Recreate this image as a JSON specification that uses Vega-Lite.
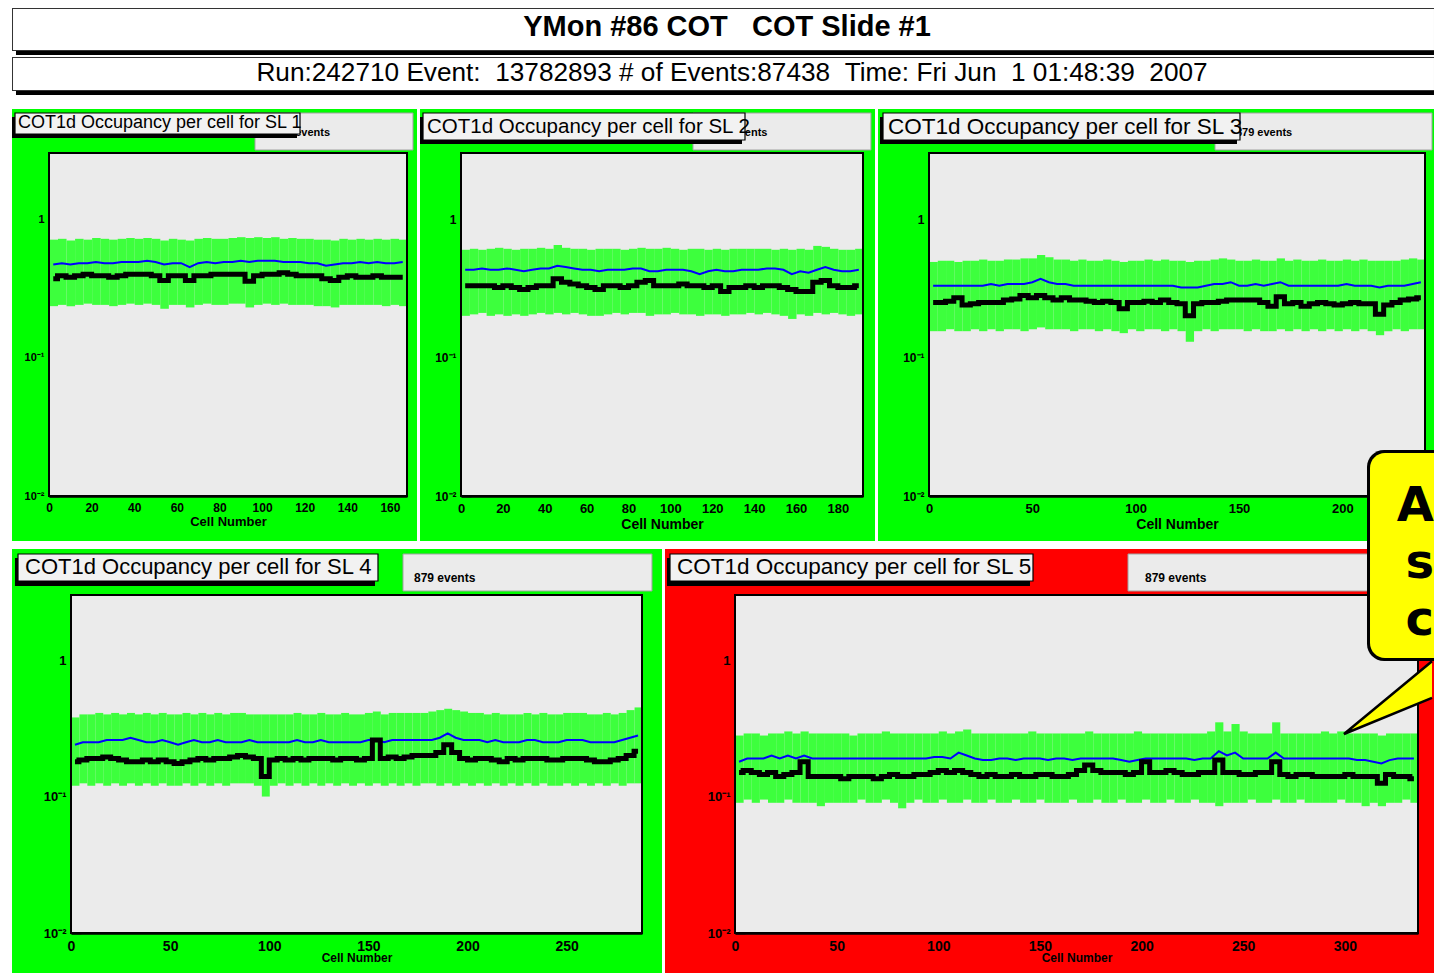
{
"$schema":"https://vega.github.io/schema/vega-lite/v6.json",
"padding":{"left":12,"top":8,"right":0,"bottom":0},
"autosize":{"type":"pad"},
"background":"white",
"spacing":-92,
"bounds":"full",
"config":{"view":{"stroke":null},"axis":{"domainColor":"black","domainWidth":2.5,"tickColor":"black","tickWidth":1.5,"labelColor":"black","labelFont":"Liberation Sans","labelFontWeight":"bold","titleFont":"Liberation Sans","titleFontWeight":"bold","titleColor":"black","grid":false,"labelOverlap":false,"labelBound":false,"labelFlush":false,"zindex":1}},
"vconcat":[
{"hconcat":[
{
"width":405,"height":432,"view":{"fill":"#00ff00","stroke":null},
"data":{"values":[
{"c":2,"l":0.235,"h":0.71,"b":0.47,"k":0.37},{"c":6,"l":0.24,"h":0.72,"b":0.48,"k":0.39},{"c":10,"l":0.235,"h":0.70,"b":0.47,"k":0.38},{"c":14,"l":0.24,"h":0.72,"b":0.48,"k":0.39},{"c":18,"l":0.245,"h":0.71,"b":0.48,"k":0.40},{"c":22,"l":0.24,"h":0.73,"b":0.49,"k":0.39},{"c":26,"l":0.24,"h":0.72,"b":0.48,"k":0.39},{"c":30,"l":0.235,"h":0.71,"b":0.48,"k":0.38},{"c":34,"l":0.24,"h":0.72,"b":0.49,"k":0.39},{"c":38,"l":0.245,"h":0.73,"b":0.49,"k":0.40},{"c":42,"l":0.24,"h":0.72,"b":0.49,"k":0.40},{"c":46,"l":0.245,"h":0.73,"b":0.50,"k":0.40},{"c":50,"l":0.24,"h":0.72,"b":0.49,"k":0.39},{"c":54,"l":0.225,"h":0.70,"b":0.47,"k":0.36},{"c":58,"l":0.24,"h":0.72,"b":0.48,"k":0.39},{"c":62,"l":0.24,"h":0.71,"b":0.48,"k":0.39},{"c":66,"l":0.23,"h":0.70,"b":0.45,"k":0.36},{"c":70,"l":0.24,"h":0.72,"b":0.48,"k":0.39},{"c":74,"l":0.245,"h":0.73,"b":0.49,"k":0.39},{"c":78,"l":0.24,"h":0.72,"b":0.48,"k":0.40},{"c":82,"l":0.24,"h":0.72,"b":0.49,"k":0.40},{"c":86,"l":0.245,"h":0.73,"b":0.49,"k":0.40},{"c":90,"l":0.245,"h":0.74,"b":0.50,"k":0.40},{"c":94,"l":0.23,"h":0.73,"b":0.49,"k":0.355},{"c":98,"l":0.24,"h":0.74,"b":0.50,"k":0.39},{"c":102,"l":0.245,"h":0.73,"b":0.50,"k":0.40},{"c":106,"l":0.24,"h":0.74,"b":0.50,"k":0.40},{"c":110,"l":0.245,"h":0.72,"b":0.49,"k":0.41},{"c":114,"l":0.24,"h":0.73,"b":0.49,"k":0.40},{"c":118,"l":0.24,"h":0.72,"b":0.49,"k":0.39},{"c":122,"l":0.24,"h":0.72,"b":0.48,"k":0.39},{"c":126,"l":0.235,"h":0.71,"b":0.48,"k":0.39},{"c":130,"l":0.235,"h":0.71,"b":0.46,"k":0.37},{"c":134,"l":0.23,"h":0.70,"b":0.47,"k":0.36},{"c":138,"l":0.24,"h":0.72,"b":0.48,"k":0.38},{"c":142,"l":0.24,"h":0.71,"b":0.48,"k":0.39},{"c":146,"l":0.24,"h":0.72,"b":0.49,"k":0.38},{"c":150,"l":0.24,"h":0.71,"b":0.48,"k":0.38},{"c":154,"l":0.24,"h":0.72,"b":0.49,"k":0.39},{"c":158,"l":0.235,"h":0.71,"b":0.48,"k":0.38},{"c":162,"l":0.24,"h":0.72,"b":0.48,"k":0.38},{"c":166,"l":0.235,"h":0.71,"b":0.49,"k":0.38}
]},
"layer":[
{"data":{"values":[{}]},"mark":{"type":"rect","fill":"#ebebeb"},"encoding":{
"x":{"datum":0,"type":"quantitative","scale":{"domain":[0,168],"range":[37,395],"nice":false,"zero":false}},
"x2":{"datum":168},
"y":{"datum":0.01,"type":"quantitative","scale":{"type":"log","domain":[0.01,3],"range":[387,44],"nice":false}},
"y2":{"datum":3}}},
{"mark":{"type":"bar","color":"#3dff3d","binSpacing":0},"encoding":{"x":{"field":"c","type":"quantitative","bin":{"step":4,"extent":[0,168]}},"y":{"field":"l","type":"quantitative"},"y2":{"field":"h"}}},
{"mark":{"type":"line","color":"#0000ff","strokeWidth":2},"encoding":{
"x":{"field":"c","type":"quantitative","axis":{"title":"Cell Number","titleFontSize":13,"titlePadding":-3,"offset":-45,"values":[0,5,10,15,20,25,30,35,40,45,50,55,60,65,70,75,80,85,90,95,100,105,110,115,120,125,130,135,140,145,150,155,160,165],"labelExpr":"datum.value % 20 == 0 ? datum.label : ''","tickSize":{"condition":{"test":"datum.value % 20 == 0","value":-10},"value":-5},"labelFontSize":12,"labelPadding":16}},
"y":{"field":"b","type":"quantitative","axis":{"title":null,"offset":-37,"values":[0.01,0.02,0.03,0.04,0.05,0.06,0.07,0.08,0.09,0.1,0.2,0.3,0.4,0.5,0.6,0.7,0.8,0.9,1,2,3],"labelExpr":"datum.value == 1 ? '1' : datum.value == 0.1 ? '10⁻¹' : datum.value == 0.01 ? '10⁻²' : ''","tickSize":{"condition":{"test":"datum.value == 1 || datum.value == 0.1 || datum.value == 0.01","value":-10},"value":-5},"labelFontSize":11,"labelPadding":15}}}},
{"mark":{"type":"line","color":"#000000","strokeWidth":5,"interpolate":"step"},"encoding":{"x":{"field":"c","type":"quantitative"},"y":{"field":"k","type":"quantitative"}}},
{"data":{"values":[{}]},"mark":{"type":"rect","fill":"transparent","stroke":"black","strokeWidth":2},"encoding":{"x":{"datum":0,"type":"quantitative"},"x2":{"datum":168},"y":{"datum":0.01,"type":"quantitative"},"y2":{"datum":3}}},
{"data":{"values":[{}]},"mark":{"type":"rect","fill":"#ebebeb","stroke":"#a0a0a0","strokeWidth":1},"encoding":{"x":{"datum":96.67,"type":"quantitative"},"x2":{"datum":170.82},"y":{"datum":3.153,"type":"quantitative"},"y2":{"datum":5.835}}},
{"data":{"values":[{}]},"mark":{"type":"text","text":"879 events","align":"left","baseline":"middle","font":"Liberation Sans","fontSize":11,"fontWeight":"bold","color":"black"},"encoding":{"x":{"datum":105.5,"type":"quantitative"},"y":{"datum":4.183,"type":"quantitative"}}},
{"data":{"values":[{}]},"mark":{"type":"rect","fill":"black"},"encoding":{"x":{"datum":-17.36,"type":"quantitative"},"x2":{"datum":116.38},"y":{"datum":3.850,"type":"quantitative"},"y2":{"datum":5.459}}},
{"data":{"values":[{}]},"mark":{"type":"rect","fill":"#f2f2f2","stroke":"black","strokeWidth":1.2},"encoding":{"x":{"datum":-15.96,"type":"quantitative"},"x2":{"datum":117.79},"y":{"datum":4.114,"type":"quantitative"},"y2":{"datum":5.835}}},
{"data":{"values":[{}]},"mark":{"type":"text","text":"COT1d Occupancy per cell for SL 1","align":"left","baseline":"middle","font":"Liberation Sans","fontSize":18,"color":"black"},"encoding":{"x":{"datum":-14.55,"type":"quantitative"},"y":{"datum":4.900,"type":"quantitative"}}},
{"data":{"values":[{}]},"mark":{"type":"rect","fill":"black"},"encoding":{"x":{"datum":-15.49,"type":"quantitative"},"x2":{"datum":649.94},"y":{"datum":15.31,"type":"quantitative"},"y2":{"datum":31.29}}},
{"data":{"values":[{}]},"mark":{"type":"rect","fill":"#333333"},"encoding":{"x":{"datum":-17.36,"type":"quantitative"},"x2":{"datum":649.94},"y":{"datum":16.36,"type":"quantitative"},"y2":{"datum":33.44}}},
{"data":{"values":[{}]},"mark":{"type":"rect","fill":"white"},"encoding":{"x":{"datum":-16.89,"type":"quantitative"},"x2":{"datum":649.94},"y":{"datum":16.63,"type":"quantitative"},"y2":{"datum":32.89}}},
{"data":{"values":[{}]},"mark":{"type":"text","text":"YMon #86 COT\u00a0\u00a0\u00a0COT Slide #1","align":"center","baseline":"middle","font":"Liberation Sans","fontSize":29,"fontWeight":"bold","color":"black"},"encoding":{"x":{"datum":318.17,"type":"quantitative"},"y":{"datum":24.38,"type":"quantitative"}}},
{"data":{"values":[{}]},"mark":{"type":"rect","fill":"black"},"encoding":{"x":{"datum":-15.49,"type":"quantitative"},"x2":{"datum":649.94},"y":{"datum":7.87,"type":"quantitative"},"y2":{"datum":13.85}}},
{"data":{"values":[{}]},"mark":{"type":"rect","fill":"#333333"},"encoding":{"x":{"datum":-17.36,"type":"quantitative"},"x2":{"datum":649.94},"y":{"datum":8.41,"type":"quantitative"},"y2":{"datum":14.81}}},
{"data":{"values":[{}]},"mark":{"type":"rect","fill":"white"},"encoding":{"x":{"datum":-16.89,"type":"quantitative"},"x2":{"datum":649.94},"y":{"datum":8.55,"type":"quantitative"},"y2":{"datum":14.56}}},
{"data":{"values":[{}]},"mark":{"type":"text","text":"Run:242710 Event:\u00a0\u00a013782893 # of Events:87438\u00a0\u00a0Time: Fri Jun\u00a0\u00a01 01:48:39\u00a0\u00a02007","align":"center","baseline":"middle","font":"Liberation Sans","fontSize":26.2,"color":"black"},"encoding":{"x":{"datum":320.51,"type":"quantitative"},"y":{"datum":11.35,"type":"quantitative"}}}
]
},
{
"width":455,"height":432,"view":{"fill":"#00ff00","stroke":null},
"data":{"values":[
{"c":2,"l":0.20,"h":0.60,"b":0.43,"k":0.33},{"c":6,"l":0.205,"h":0.61,"b":0.43,"k":0.33},{"c":10,"l":0.21,"h":0.60,"b":0.44,"k":0.33},{"c":14,"l":0.20,"h":0.61,"b":0.43,"k":0.33},{"c":18,"l":0.205,"h":0.62,"b":0.43,"k":0.32},{"c":22,"l":0.20,"h":0.61,"b":0.44,"k":0.33},{"c":26,"l":0.205,"h":0.60,"b":0.43,"k":0.32},{"c":30,"l":0.20,"h":0.61,"b":0.42,"k":0.31},{"c":34,"l":0.205,"h":0.61,"b":0.43,"k":0.32},{"c":38,"l":0.21,"h":0.62,"b":0.44,"k":0.33},{"c":42,"l":0.205,"h":0.61,"b":0.44,"k":0.33},{"c":46,"l":0.21,"h":0.65,"b":0.46,"k":0.37},{"c":50,"l":0.205,"h":0.62,"b":0.45,"k":0.35},{"c":54,"l":0.21,"h":0.61,"b":0.44,"k":0.34},{"c":58,"l":0.205,"h":0.61,"b":0.43,"k":0.33},{"c":62,"l":0.20,"h":0.60,"b":0.43,"k":0.32},{"c":66,"l":0.20,"h":0.61,"b":0.42,"k":0.31},{"c":70,"l":0.205,"h":0.61,"b":0.43,"k":0.33},{"c":74,"l":0.21,"h":0.61,"b":0.43,"k":0.33},{"c":78,"l":0.205,"h":0.60,"b":0.43,"k":0.32},{"c":82,"l":0.21,"h":0.61,"b":0.44,"k":0.33},{"c":86,"l":0.21,"h":0.62,"b":0.44,"k":0.35},{"c":90,"l":0.20,"h":0.61,"b":0.42,"k":0.36},{"c":94,"l":0.205,"h":0.61,"b":0.42,"k":0.33},{"c":98,"l":0.205,"h":0.62,"b":0.43,"k":0.33},{"c":102,"l":0.21,"h":0.61,"b":0.43,"k":0.33},{"c":106,"l":0.205,"h":0.60,"b":0.43,"k":0.34},{"c":110,"l":0.205,"h":0.61,"b":0.42,"k":0.33},{"c":114,"l":0.20,"h":0.61,"b":0.40,"k":0.33},{"c":118,"l":0.205,"h":0.60,"b":0.42,"k":0.32},{"c":122,"l":0.205,"h":0.61,"b":0.43,"k":0.33},{"c":126,"l":0.20,"h":0.60,"b":0.42,"k":0.30},{"c":130,"l":0.205,"h":0.61,"b":0.42,"k":0.32},{"c":134,"l":0.205,"h":0.61,"b":0.43,"k":0.32},{"c":138,"l":0.21,"h":0.61,"b":0.43,"k":0.33},{"c":142,"l":0.205,"h":0.61,"b":0.43,"k":0.32},{"c":146,"l":0.21,"h":0.61,"b":0.44,"k":0.33},{"c":150,"l":0.205,"h":0.60,"b":0.44,"k":0.33},{"c":154,"l":0.20,"h":0.61,"b":0.43,"k":0.32},{"c":158,"l":0.19,"h":0.60,"b":0.40,"k":0.31},{"c":162,"l":0.205,"h":0.61,"b":0.42,"k":0.30},{"c":166,"l":0.20,"h":0.60,"b":0.41,"k":0.30},{"c":170,"l":0.21,"h":0.64,"b":0.43,"k":0.35},{"c":174,"l":0.205,"h":0.63,"b":0.45,"k":0.36},{"c":178,"l":0.21,"h":0.61,"b":0.43,"k":0.33},{"c":182,"l":0.205,"h":0.60,"b":0.42,"k":0.32},{"c":186,"l":0.20,"h":0.60,"b":0.42,"k":0.32},{"c":190,"l":0.205,"h":0.61,"b":0.43,"k":0.33}
]},
"layer":[
{"data":{"values":[{}]},"mark":{"type":"rect","fill":"#ebebeb"},"encoding":{
"x":{"datum":0,"type":"quantitative","scale":{"domain":[0,192],"range":[41,443],"nice":false,"zero":false}},
"x2":{"datum":192},
"y":{"datum":0.01,"type":"quantitative","scale":{"type":"log","domain":[0.01,3],"range":[387,44],"nice":false}},
"y2":{"datum":3}}},
{"mark":{"type":"bar","color":"#3dff3d","binSpacing":0},"encoding":{"x":{"field":"c","type":"quantitative","bin":{"step":4,"extent":[0,192]}},"y":{"field":"l","type":"quantitative"},"y2":{"field":"h"}}},
{"mark":{"type":"line","color":"#0000ff","strokeWidth":2},"encoding":{
"x":{"field":"c","type":"quantitative","axis":{"title":"Cell Number","titleFontSize":14,"titlePadding":-3,"offset":-45,"values":[0,5,10,15,20,25,30,35,40,45,50,55,60,65,70,75,80,85,90,95,100,105,110,115,120,125,130,135,140,145,150,155,160,165,170,175,180,185,190],"labelExpr":"datum.value % 20 == 0 ? datum.label : ''","tickSize":{"condition":{"test":"datum.value % 20 == 0","value":-10},"value":-5},"labelFontSize":13,"labelPadding":16}},
"y":{"field":"b","type":"quantitative","axis":{"title":null,"offset":-41,"values":[0.01,0.02,0.03,0.04,0.05,0.06,0.07,0.08,0.09,0.1,0.2,0.3,0.4,0.5,0.6,0.7,0.8,0.9,1,2,3],"labelExpr":"datum.value == 1 ? '1' : datum.value == 0.1 ? '10⁻¹' : datum.value == 0.01 ? '10⁻²' : ''","tickSize":{"condition":{"test":"datum.value == 1 || datum.value == 0.1 || datum.value == 0.01","value":-10},"value":-5},"labelFontSize":12,"labelPadding":15}}}},
{"mark":{"type":"line","color":"#000000","strokeWidth":5,"interpolate":"step"},"encoding":{"x":{"field":"c","type":"quantitative"},"y":{"field":"k","type":"quantitative"}}},
{"data":{"values":[{}]},"mark":{"type":"rect","fill":"transparent","stroke":"black","strokeWidth":2},"encoding":{"x":{"datum":0,"type":"quantitative"},"x2":{"datum":192},"y":{"datum":0.01,"type":"quantitative"},"y2":{"datum":3}}},
{"data":{"values":[{}]},"mark":{"type":"rect","fill":"#ebebeb","stroke":"#a0a0a0","strokeWidth":1},"encoding":{"x":{"datum":110.8,"type":"quantitative"},"x2":{"datum":195.8},"y":{"datum":3.153,"type":"quantitative"},"y2":{"datum":5.835}}},
{"data":{"values":[{}]},"mark":{"type":"text","text":"879 events","align":"left","baseline":"middle","font":"Liberation Sans","fontSize":11,"fontWeight":"bold","color":"black"},"encoding":{"x":{"datum":119.5,"type":"quantitative"},"y":{"datum":4.183,"type":"quantitative"}}},
{"data":{"values":[{}]},"mark":{"type":"rect","fill":"black"},"encoding":{"x":{"datum":-19.58,"type":"quantitative"},"x2":{"datum":134.21},"y":{"datum":3.484,"type":"quantitative"},"y2":{"datum":5.459}}},
{"data":{"values":[{}]},"mark":{"type":"rect","fill":"#f2f2f2","stroke":"black","strokeWidth":1.2},"encoding":{"x":{"datum":-18.15,"type":"quantitative"},"x2":{"datum":135.64},"y":{"datum":3.724,"type":"quantitative"},"y2":{"datum":5.835}}},
{"data":{"values":[{}]},"mark":{"type":"text","text":"COT1d Occupancy per cell for SL 2","align":"left","baseline":"middle","font":"Liberation Sans","fontSize":20.5,"color":"black"},"encoding":{"x":{"datum":-16.24,"type":"quantitative"},"y":{"datum":4.661,"type":"quantitative"}}}
]
},
{
"width":556,"height":432,"view":{"fill":"#00ff00","stroke":null},
"data":{"values":[
{"c":2,"l":0.155,"h":0.49,"b":0.33,"k":0.25},{"c":6,"l":0.155,"h":0.50,"b":0.33,"k":0.25},{"c":10,"l":0.16,"h":0.50,"b":0.33,"k":0.255},{"c":14,"l":0.155,"h":0.49,"b":0.33,"k":0.27},{"c":18,"l":0.155,"h":0.50,"b":0.33,"k":0.24},{"c":22,"l":0.16,"h":0.50,"b":0.33,"k":0.245},{"c":26,"l":0.155,"h":0.51,"b":0.33,"k":0.25},{"c":30,"l":0.16,"h":0.50,"b":0.34,"k":0.25},{"c":34,"l":0.155,"h":0.50,"b":0.33,"k":0.25},{"c":38,"l":0.16,"h":0.51,"b":0.34,"k":0.26},{"c":42,"l":0.16,"h":0.51,"b":0.34,"k":0.265},{"c":46,"l":0.155,"h":0.52,"b":0.34,"k":0.28},{"c":50,"l":0.16,"h":0.52,"b":0.35,"k":0.27},{"c":54,"l":0.165,"h":0.55,"b":0.37,"k":0.28},{"c":58,"l":0.16,"h":0.53,"b":0.35,"k":0.27},{"c":62,"l":0.16,"h":0.51,"b":0.34,"k":0.26},{"c":66,"l":0.16,"h":0.51,"b":0.34,"k":0.27},{"c":70,"l":0.155,"h":0.50,"b":0.33,"k":0.26},{"c":74,"l":0.16,"h":0.51,"b":0.33,"k":0.26},{"c":78,"l":0.16,"h":0.50,"b":0.33,"k":0.255},{"c":82,"l":0.155,"h":0.50,"b":0.33,"k":0.25},{"c":86,"l":0.16,"h":0.51,"b":0.33,"k":0.255},{"c":90,"l":0.155,"h":0.50,"b":0.33,"k":0.25},{"c":94,"l":0.15,"h":0.49,"b":0.33,"k":0.225},{"c":98,"l":0.16,"h":0.50,"b":0.33,"k":0.25},{"c":102,"l":0.155,"h":0.50,"b":0.33,"k":0.25},{"c":106,"l":0.16,"h":0.51,"b":0.33,"k":0.255},{"c":110,"l":0.16,"h":0.50,"b":0.33,"k":0.25},{"c":114,"l":0.155,"h":0.51,"b":0.33,"k":0.26},{"c":118,"l":0.16,"h":0.50,"b":0.33,"k":0.25},{"c":122,"l":0.155,"h":0.50,"b":0.32,"k":0.245},{"c":126,"l":0.13,"h":0.49,"b":0.32,"k":0.20},{"c":130,"l":0.155,"h":0.50,"b":0.32,"k":0.245},{"c":134,"l":0.16,"h":0.50,"b":0.33,"k":0.25},{"c":138,"l":0.155,"h":0.51,"b":0.34,"k":0.25},{"c":142,"l":0.16,"h":0.52,"b":0.34,"k":0.255},{"c":146,"l":0.16,"h":0.51,"b":0.35,"k":0.26},{"c":150,"l":0.16,"h":0.50,"b":0.33,"k":0.26},{"c":154,"l":0.155,"h":0.50,"b":0.33,"k":0.26},{"c":158,"l":0.16,"h":0.51,"b":0.34,"k":0.26},{"c":162,"l":0.155,"h":0.50,"b":0.33,"k":0.25},{"c":166,"l":0.155,"h":0.50,"b":0.34,"k":0.235},{"c":170,"l":0.16,"h":0.52,"b":0.35,"k":0.275},{"c":174,"l":0.155,"h":0.50,"b":0.33,"k":0.245},{"c":178,"l":0.16,"h":0.51,"b":0.33,"k":0.25},{"c":182,"l":0.155,"h":0.50,"b":0.33,"k":0.235},{"c":186,"l":0.16,"h":0.50,"b":0.33,"k":0.245},{"c":190,"l":0.155,"h":0.51,"b":0.33,"k":0.25},{"c":194,"l":0.16,"h":0.50,"b":0.33,"k":0.245},{"c":198,"l":0.155,"h":0.50,"b":0.33,"k":0.24},{"c":202,"l":0.16,"h":0.51,"b":0.34,"k":0.245},{"c":206,"l":0.155,"h":0.50,"b":0.33,"k":0.25},{"c":210,"l":0.16,"h":0.51,"b":0.33,"k":0.245},{"c":214,"l":0.155,"h":0.50,"b":0.33,"k":0.245},{"c":218,"l":0.145,"h":0.50,"b":0.32,"k":0.205},{"c":222,"l":0.155,"h":0.50,"b":0.33,"k":0.24},{"c":226,"l":0.16,"h":0.50,"b":0.33,"k":0.25},{"c":230,"l":0.155,"h":0.51,"b":0.33,"k":0.26},{"c":234,"l":0.16,"h":0.52,"b":0.34,"k":0.265},{"c":238,"l":0.16,"h":0.51,"b":0.35,"k":0.27}
]},
"layer":[
{"data":{"values":[{}]},"mark":{"type":"rect","fill":"#ebebeb"},"encoding":{
"x":{"datum":0,"type":"quantitative","scale":{"domain":[0,240],"range":[51,547],"nice":false,"zero":false}},
"x2":{"datum":240},
"y":{"datum":0.01,"type":"quantitative","scale":{"type":"log","domain":[0.01,3],"range":[387,44],"nice":false}},
"y2":{"datum":3}}},
{"mark":{"type":"bar","color":"#3dff3d","binSpacing":0},"encoding":{"x":{"field":"c","type":"quantitative","bin":{"step":4,"extent":[0,240]}},"y":{"field":"l","type":"quantitative"},"y2":{"field":"h"}}},
{"mark":{"type":"line","color":"#0000ff","strokeWidth":2},"encoding":{
"x":{"field":"c","type":"quantitative","axis":{"title":"Cell Number","titleFontSize":14,"titlePadding":-3,"offset":-45,"values":[0,10,20,30,40,50,60,70,80,90,100,110,120,130,140,150,160,170,180,190,200,210,220,230,240],"labelExpr":"datum.value % 50 == 0 ? datum.label : ''","tickSize":{"condition":{"test":"datum.value % 50 == 0","value":-10},"value":-5},"labelFontSize":13,"labelPadding":16}},
"y":{"field":"b","type":"quantitative","axis":{"title":null,"offset":-51,"values":[0.01,0.02,0.03,0.04,0.05,0.06,0.07,0.08,0.09,0.1,0.2,0.3,0.4,0.5,0.6,0.7,0.8,0.9,1,2,3],"labelExpr":"datum.value == 1 ? '1' : datum.value == 0.1 ? '10⁻¹' : datum.value == 0.01 ? '10⁻²' : ''","tickSize":{"condition":{"test":"datum.value == 1 || datum.value == 0.1 || datum.value == 0.01","value":-10},"value":-5},"labelFontSize":12,"labelPadding":15}}}},
{"mark":{"type":"line","color":"#000000","strokeWidth":5,"interpolate":"step"},"encoding":{"x":{"field":"c","type":"quantitative"},"y":{"field":"k","type":"quantitative"}}},
{"data":{"values":[{}]},"mark":{"type":"rect","fill":"transparent","stroke":"black","strokeWidth":2},"encoding":{"x":{"datum":0,"type":"quantitative"},"x2":{"datum":240},"y":{"datum":0.01,"type":"quantitative"},"y2":{"datum":3}}},
{"data":{"values":[{}]},"mark":{"type":"rect","fill":"#ebebeb","stroke":"#a0a0a0","strokeWidth":1},"encoding":{"x":{"datum":138.39,"type":"quantitative"},"x2":{"datum":243.39},"y":{"datum":3.153,"type":"quantitative"},"y2":{"datum":5.835}}},
{"data":{"values":[{}]},"mark":{"type":"text","text":"879 events","align":"left","baseline":"middle","font":"Liberation Sans","fontSize":11,"fontWeight":"bold","color":"black"},"encoding":{"x":{"datum":148.5,"type":"quantitative"},"y":{"datum":4.183,"type":"quantitative"}}},
{"data":{"values":[{}]},"mark":{"type":"rect","fill":"black"},"encoding":{"x":{"datum":-23.71,"type":"quantitative"},"x2":{"datum":149.03},"y":{"datum":3.484,"type":"quantitative"},"y2":{"datum":5.459}}},
{"data":{"values":[{}]},"mark":{"type":"rect","fill":"#f2f2f2","stroke":"black","strokeWidth":1.2},"encoding":{"x":{"datum":-22.26,"type":"quantitative"},"x2":{"datum":150.48},"y":{"datum":3.724,"type":"quantitative"},"y2":{"datum":5.835}}},
{"data":{"values":[{}]},"mark":{"type":"text","text":"COT1d Occupancy per cell for SL 3","align":"left","baseline":"middle","font":"Liberation Sans","fontSize":22.5,"color":"black"},"encoding":{"x":{"datum":-19.84,"type":"quantitative"},"y":{"datum":4.661,"type":"quantitative"}}}
]
}
],"spacing":3,"bounds":"flush"},
{"hconcat":[
{
"width":650,"height":425,"view":{"fill":"#00ff00","stroke":null},
"data":{"values":[
{"c":2,"l":0.12,"h":0.38,"b":0.24,"k":0.18},{"c":6,"l":0.125,"h":0.40,"b":0.25,"k":0.185},{"c":10,"l":0.12,"h":0.40,"b":0.25,"k":0.19},{"c":14,"l":0.125,"h":0.41,"b":0.25,"k":0.19},{"c":18,"l":0.12,"h":0.40,"b":0.26,"k":0.195},{"c":22,"l":0.125,"h":0.41,"b":0.26,"k":0.19},{"c":26,"l":0.12,"h":0.40,"b":0.26,"k":0.185},{"c":30,"l":0.125,"h":0.41,"b":0.27,"k":0.18},{"c":34,"l":0.12,"h":0.40,"b":0.26,"k":0.18},{"c":38,"l":0.125,"h":0.41,"b":0.25,"k":0.185},{"c":42,"l":0.12,"h":0.40,"b":0.25,"k":0.18},{"c":46,"l":0.125,"h":0.41,"b":0.26,"k":0.185},{"c":50,"l":0.12,"h":0.40,"b":0.25,"k":0.18},{"c":54,"l":0.12,"h":0.40,"b":0.24,"k":0.175},{"c":58,"l":0.125,"h":0.41,"b":0.25,"k":0.18},{"c":62,"l":0.12,"h":0.40,"b":0.26,"k":0.185},{"c":66,"l":0.125,"h":0.41,"b":0.25,"k":0.19},{"c":70,"l":0.12,"h":0.40,"b":0.25,"k":0.185},{"c":74,"l":0.125,"h":0.41,"b":0.26,"k":0.19},{"c":78,"l":0.12,"h":0.40,"b":0.25,"k":0.19},{"c":82,"l":0.125,"h":0.41,"b":0.25,"k":0.195},{"c":86,"l":0.125,"h":0.41,"b":0.25,"k":0.20},{"c":90,"l":0.125,"h":0.40,"b":0.26,"k":0.195},{"c":94,"l":0.12,"h":0.40,"b":0.25,"k":0.19},{"c":98,"l":0.10,"h":0.40,"b":0.25,"k":0.14},{"c":102,"l":0.12,"h":0.40,"b":0.25,"k":0.185},{"c":106,"l":0.125,"h":0.40,"b":0.25,"k":0.19},{"c":110,"l":0.12,"h":0.40,"b":0.25,"k":0.185},{"c":114,"l":0.125,"h":0.41,"b":0.26,"k":0.19},{"c":118,"l":0.12,"h":0.40,"b":0.25,"k":0.185},{"c":122,"l":0.125,"h":0.40,"b":0.25,"k":0.19},{"c":126,"l":0.12,"h":0.41,"b":0.26,"k":0.19},{"c":130,"l":0.125,"h":0.40,"b":0.25,"k":0.19},{"c":134,"l":0.12,"h":0.40,"b":0.25,"k":0.185},{"c":138,"l":0.125,"h":0.41,"b":0.25,"k":0.19},{"c":142,"l":0.12,"h":0.40,"b":0.25,"k":0.19},{"c":146,"l":0.125,"h":0.40,"b":0.25,"k":0.185},{"c":150,"l":0.12,"h":0.41,"b":0.26,"k":0.19},{"c":154,"l":0.125,"h":0.42,"b":0.26,"k":0.26},{"c":158,"l":0.12,"h":0.40,"b":0.25,"k":0.19},{"c":162,"l":0.125,"h":0.41,"b":0.26,"k":0.195},{"c":166,"l":0.12,"h":0.41,"b":0.26,"k":0.19},{"c":170,"l":0.125,"h":0.41,"b":0.26,"k":0.195},{"c":174,"l":0.12,"h":0.41,"b":0.26,"k":0.20},{"c":178,"l":0.125,"h":0.41,"b":0.26,"k":0.20},{"c":182,"l":0.125,"h":0.42,"b":0.26,"k":0.20},{"c":186,"l":0.12,"h":0.43,"b":0.27,"k":0.21},{"c":190,"l":0.125,"h":0.44,"b":0.29,"k":0.24},{"c":194,"l":0.12,"h":0.43,"b":0.27,"k":0.21},{"c":198,"l":0.125,"h":0.42,"b":0.26,"k":0.19},{"c":202,"l":0.12,"h":0.41,"b":0.26,"k":0.185},{"c":206,"l":0.125,"h":0.41,"b":0.26,"k":0.19},{"c":210,"l":0.12,"h":0.40,"b":0.25,"k":0.19},{"c":214,"l":0.125,"h":0.41,"b":0.26,"k":0.185},{"c":218,"l":0.12,"h":0.40,"b":0.25,"k":0.18},{"c":222,"l":0.125,"h":0.40,"b":0.25,"k":0.19},{"c":226,"l":0.12,"h":0.40,"b":0.25,"k":0.185},{"c":230,"l":0.125,"h":0.41,"b":0.26,"k":0.19},{"c":234,"l":0.12,"h":0.40,"b":0.26,"k":0.19},{"c":238,"l":0.125,"h":0.41,"b":0.25,"k":0.19},{"c":242,"l":0.12,"h":0.40,"b":0.25,"k":0.185},{"c":246,"l":0.12,"h":0.40,"b":0.25,"k":0.185},{"c":250,"l":0.125,"h":0.41,"b":0.26,"k":0.19},{"c":254,"l":0.12,"h":0.41,"b":0.26,"k":0.19},{"c":258,"l":0.125,"h":0.41,"b":0.26,"k":0.19},{"c":262,"l":0.12,"h":0.40,"b":0.25,"k":0.185},{"c":266,"l":0.125,"h":0.40,"b":0.25,"k":0.18},{"c":270,"l":0.12,"h":0.41,"b":0.25,"k":0.18},{"c":274,"l":0.125,"h":0.40,"b":0.25,"k":0.185},{"c":278,"l":0.12,"h":0.41,"b":0.26,"k":0.19},{"c":282,"l":0.125,"h":0.43,"b":0.27,"k":0.20},{"c":286,"l":0.125,"h":0.45,"b":0.28,"k":0.215}
]},
"layer":[
{"data":{"values":[{}]},"mark":{"type":"rect","fill":"#ebebeb"},"encoding":{
"x":{"datum":0,"type":"quantitative","scale":{"domain":[0,288],"range":[59,630],"nice":false,"zero":false}},
"x2":{"datum":288},
"y":{"datum":0.01,"type":"quantitative","scale":{"type":"log","domain":[0.01,3],"range":[384,46],"nice":false}},
"y2":{"datum":3}}},
{"mark":{"type":"bar","color":"#3dff3d","binSpacing":0},"encoding":{"x":{"field":"c","type":"quantitative","bin":{"step":4,"extent":[0,288]}},"y":{"field":"l","type":"quantitative"},"y2":{"field":"h"}}},
{"mark":{"type":"line","color":"#0000ff","strokeWidth":2},"encoding":{
"x":{"field":"c","type":"quantitative","axis":{"title":"Cell Number","titleFontSize":12,"titlePadding":-6,"offset":-41,"values":[0,10,20,30,40,50,60,70,80,90,100,110,120,130,140,150,160,170,180,190,200,210,220,230,240,250,260,270,280],"labelExpr":"datum.value % 50 == 0 ? datum.label : ''","tickSize":{"condition":{"test":"datum.value % 50 == 0","value":-10},"value":-5},"labelFontSize":14,"labelPadding":16}},
"y":{"field":"b","type":"quantitative","axis":{"title":null,"offset":-59,"values":[0.01,0.02,0.03,0.04,0.05,0.06,0.07,0.08,0.09,0.1,0.2,0.3,0.4,0.5,0.6,0.7,0.8,0.9,1,2,3],"labelExpr":"datum.value == 1 ? '1' : datum.value == 0.1 ? '10⁻¹' : datum.value == 0.01 ? '10⁻²' : ''","tickSize":{"condition":{"test":"datum.value == 1 || datum.value == 0.1 || datum.value == 0.01","value":-10},"value":-5},"labelFontSize":13,"labelPadding":15}}}},
{"mark":{"type":"line","color":"#000000","strokeWidth":5,"interpolate":"step"},"encoding":{"x":{"field":"c","type":"quantitative"},"y":{"field":"k","type":"quantitative"}}},
{"data":{"values":[{}]},"mark":{"type":"rect","fill":"transparent","stroke":"black","strokeWidth":2},"encoding":{"x":{"datum":0,"type":"quantitative"},"x2":{"datum":288},"y":{"datum":0.01,"type":"quantitative"},"y2":{"datum":3}}},
{"data":{"values":[{}]},"mark":{"type":"rect","fill":"#ebebeb","stroke":"#a0a0a0","strokeWidth":1},"encoding":{"x":{"datum":167.45,"type":"quantitative"},"x2":{"datum":293.04},"y":{"datum":3.209,"type":"quantitative"},"y2":{"datum":5.993}}},
{"data":{"values":[{}]},"mark":{"type":"text","text":"879 events","align":"left","baseline":"middle","font":"Liberation Sans","fontSize":12,"fontWeight":"bold","color":"black"},"encoding":{"x":{"datum":173.0,"type":"quantitative"},"y":{"datum":3.997,"type":"quantitative"}}},
{"data":{"values":[{}]},"mark":{"type":"rect","fill":"black"},"encoding":{"x":{"datum":-28.25,"type":"quantitative"},"x2":{"datum":153.33},"y":{"datum":3.492,"type":"quantitative"},"y2":{"datum":5.600}}},
{"data":{"values":[{}]},"mark":{"type":"rect","fill":"#f2f2f2","stroke":"black","strokeWidth":1.2},"encoding":{"x":{"datum":-26.73,"type":"quantitative"},"x2":{"datum":154.84},"y":{"datum":3.800,"type":"quantitative"},"y2":{"datum":5.993}}},
{"data":{"values":[{}]},"mark":{"type":"text","text":"COT1d Occupancy per cell for SL 4","align":"left","baseline":"middle","font":"Liberation Sans","fontSize":22,"color":"black"},"encoding":{"x":{"datum":-23.20,"type":"quantitative"},"y":{"datum":4.772,"type":"quantitative"}}}
]
},
{
"width":769,"height":425,"view":{"fill":"#ff0000","stroke":null},
"data":{"values":[
{"c":2,"l":0.09,"h":0.28,"b":0.18,"k":0.15},{"c":6,"l":0.095,"h":0.29,"b":0.19,"k":0.155},{"c":10,"l":0.09,"h":0.29,"b":0.19,"k":0.15},{"c":14,"l":0.095,"h":0.28,"b":0.19,"k":0.145},{"c":18,"l":0.09,"h":0.29,"b":0.20,"k":0.15},{"c":22,"l":0.09,"h":0.29,"b":0.19,"k":0.14},{"c":26,"l":0.095,"h":0.30,"b":0.20,"k":0.145},{"c":30,"l":0.09,"h":0.29,"b":0.19,"k":0.15},{"c":34,"l":0.09,"h":0.30,"b":0.20,"k":0.18},{"c":38,"l":0.09,"h":0.29,"b":0.19,"k":0.14},{"c":42,"l":0.085,"h":0.29,"b":0.19,"k":0.14},{"c":46,"l":0.09,"h":0.29,"b":0.19,"k":0.14},{"c":50,"l":0.09,"h":0.29,"b":0.19,"k":0.14},{"c":54,"l":0.09,"h":0.29,"b":0.19,"k":0.135},{"c":58,"l":0.09,"h":0.28,"b":0.19,"k":0.14},{"c":62,"l":0.095,"h":0.29,"b":0.19,"k":0.14},{"c":66,"l":0.09,"h":0.29,"b":0.19,"k":0.14},{"c":70,"l":0.09,"h":0.29,"b":0.19,"k":0.135},{"c":74,"l":0.095,"h":0.30,"b":0.19,"k":0.14},{"c":78,"l":0.09,"h":0.29,"b":0.19,"k":0.145},{"c":82,"l":0.082,"h":0.29,"b":0.19,"k":0.14},{"c":86,"l":0.09,"h":0.29,"b":0.19,"k":0.14},{"c":90,"l":0.095,"h":0.29,"b":0.19,"k":0.145},{"c":94,"l":0.09,"h":0.29,"b":0.19,"k":0.145},{"c":98,"l":0.09,"h":0.29,"b":0.195,"k":0.15},{"c":102,"l":0.095,"h":0.30,"b":0.195,"k":0.155},{"c":106,"l":0.09,"h":0.29,"b":0.19,"k":0.15},{"c":110,"l":0.09,"h":0.30,"b":0.21,"k":0.155},{"c":114,"l":0.095,"h":0.31,"b":0.20,"k":0.15},{"c":118,"l":0.09,"h":0.29,"b":0.19,"k":0.145},{"c":122,"l":0.09,"h":0.29,"b":0.185,"k":0.14},{"c":126,"l":0.095,"h":0.29,"b":0.185,"k":0.145},{"c":130,"l":0.09,"h":0.29,"b":0.19,"k":0.14},{"c":134,"l":0.09,"h":0.29,"b":0.19,"k":0.14},{"c":138,"l":0.095,"h":0.29,"b":0.185,"k":0.145},{"c":142,"l":0.09,"h":0.29,"b":0.19,"k":0.14},{"c":146,"l":0.09,"h":0.30,"b":0.19,"k":0.14},{"c":150,"l":0.095,"h":0.29,"b":0.19,"k":0.145},{"c":154,"l":0.09,"h":0.29,"b":0.185,"k":0.145},{"c":158,"l":0.09,"h":0.29,"b":0.19,"k":0.14},{"c":162,"l":0.09,"h":0.29,"b":0.19,"k":0.14},{"c":166,"l":0.095,"h":0.29,"b":0.185,"k":0.145},{"c":170,"l":0.09,"h":0.29,"b":0.19,"k":0.155},{"c":174,"l":0.09,"h":0.30,"b":0.19,"k":0.17},{"c":178,"l":0.095,"h":0.29,"b":0.19,"k":0.155},{"c":182,"l":0.09,"h":0.29,"b":0.19,"k":0.15},{"c":186,"l":0.09,"h":0.29,"b":0.19,"k":0.15},{"c":190,"l":0.095,"h":0.29,"b":0.185,"k":0.15},{"c":194,"l":0.09,"h":0.29,"b":0.18,"k":0.145},{"c":198,"l":0.09,"h":0.30,"b":0.185,"k":0.15},{"c":202,"l":0.095,"h":0.29,"b":0.19,"k":0.18},{"c":206,"l":0.09,"h":0.29,"b":0.19,"k":0.15},{"c":210,"l":0.09,"h":0.29,"b":0.19,"k":0.15},{"c":214,"l":0.095,"h":0.29,"b":0.19,"k":0.155},{"c":218,"l":0.09,"h":0.29,"b":0.19,"k":0.15},{"c":222,"l":0.09,"h":0.29,"b":0.19,"k":0.145},{"c":226,"l":0.095,"h":0.29,"b":0.185,"k":0.145},{"c":230,"l":0.09,"h":0.29,"b":0.19,"k":0.15},{"c":234,"l":0.09,"h":0.30,"b":0.19,"k":0.15},{"c":238,"l":0.085,"h":0.35,"b":0.215,"k":0.185},{"c":242,"l":0.09,"h":0.30,"b":0.20,"k":0.15},{"c":246,"l":0.09,"h":0.34,"b":0.21,"k":0.15},{"c":250,"l":0.09,"h":0.30,"b":0.19,"k":0.145},{"c":254,"l":0.095,"h":0.29,"b":0.19,"k":0.145},{"c":258,"l":0.09,"h":0.29,"b":0.19,"k":0.15},{"c":262,"l":0.09,"h":0.29,"b":0.19,"k":0.15},{"c":266,"l":0.095,"h":0.35,"b":0.21,"k":0.18},{"c":270,"l":0.09,"h":0.29,"b":0.19,"k":0.145},{"c":274,"l":0.09,"h":0.29,"b":0.19,"k":0.14},{"c":278,"l":0.095,"h":0.29,"b":0.19,"k":0.145},{"c":282,"l":0.09,"h":0.29,"b":0.19,"k":0.145},{"c":286,"l":0.09,"h":0.29,"b":0.19,"k":0.14},{"c":290,"l":0.09,"h":0.30,"b":0.19,"k":0.14},{"c":294,"l":0.09,"h":0.29,"b":0.19,"k":0.14},{"c":298,"l":0.095,"h":0.30,"b":0.19,"k":0.14},{"c":302,"l":0.09,"h":0.29,"b":0.19,"k":0.145},{"c":306,"l":0.09,"h":0.29,"b":0.185,"k":0.14},{"c":310,"l":0.085,"h":0.29,"b":0.185,"k":0.14},{"c":314,"l":0.09,"h":0.29,"b":0.18,"k":0.14},{"c":318,"l":0.085,"h":0.28,"b":0.175,"k":0.125},{"c":322,"l":0.09,"h":0.29,"b":0.185,"k":0.145},{"c":326,"l":0.09,"h":0.29,"b":0.19,"k":0.14},{"c":330,"l":0.095,"h":0.29,"b":0.19,"k":0.14},{"c":334,"l":0.09,"h":0.29,"b":0.19,"k":0.135}
]},
"layer":[
{"data":{"values":[{}]},"mark":{"type":"rect","fill":"#ebebeb"},"encoding":{
"x":{"datum":0,"type":"quantitative","scale":{"domain":[0,336],"range":[70,753],"nice":false,"zero":false}},
"x2":{"datum":336},
"y":{"datum":0.01,"type":"quantitative","scale":{"type":"log","domain":[0.01,3],"range":[384,46],"nice":false}},
"y2":{"datum":3}}},
{"mark":{"type":"bar","color":"#3dff3d","binSpacing":0},"encoding":{"x":{"field":"c","type":"quantitative","bin":{"step":4,"extent":[0,336]}},"y":{"field":"l","type":"quantitative"},"y2":{"field":"h"}}},
{"mark":{"type":"line","color":"#0000ff","strokeWidth":2},"encoding":{
"x":{"field":"c","type":"quantitative","axis":{"title":"Cell Number","titleFontSize":12,"titlePadding":-6,"offset":-41,"values":[0,10,20,30,40,50,60,70,80,90,100,110,120,130,140,150,160,170,180,190,200,210,220,230,240,250,260,270,280,290,300,310,320,330],"labelExpr":"datum.value % 50 == 0 ? datum.label : ''","tickSize":{"condition":{"test":"datum.value % 50 == 0","value":-10},"value":-5},"labelFontSize":14,"labelPadding":16}},
"y":{"field":"b","type":"quantitative","axis":{"title":null,"offset":-70,"values":[0.01,0.02,0.03,0.04,0.05,0.06,0.07,0.08,0.09,0.1,0.2,0.3,0.4,0.5,0.6,0.7,0.8,0.9,1,2,3],"labelExpr":"datum.value == 1 ? '1' : datum.value == 0.1 ? '10⁻¹' : datum.value == 0.01 ? '10⁻²' : ''","tickSize":{"condition":{"test":"datum.value == 1 || datum.value == 0.1 || datum.value == 0.01","value":-10},"value":-5},"labelFontSize":13,"labelPadding":15}}}},
{"mark":{"type":"line","color":"#000000","strokeWidth":5,"interpolate":"step"},"encoding":{"x":{"field":"c","type":"quantitative"},"y":{"field":"k","type":"quantitative"}}},
{"data":{"values":[{}]},"mark":{"type":"rect","fill":"transparent","stroke":"black","strokeWidth":2},"encoding":{"x":{"datum":0,"type":"quantitative"},"x2":{"datum":336},"y":{"datum":0.01,"type":"quantitative"},"y2":{"datum":3}}},
{"data":{"values":[{}]},"mark":{"type":"rect","fill":"#ebebeb","stroke":"#a0a0a0","strokeWidth":1},"encoding":{"x":{"datum":193.34,"type":"quantitative"},"x2":{"datum":327.14},"y":{"datum":3.209,"type":"quantitative"},"y2":{"datum":5.993}}},
{"data":{"values":[{}]},"mark":{"type":"text","text":"879 events","align":"left","baseline":"middle","font":"Liberation Sans","fontSize":12,"fontWeight":"bold","color":"black"},"encoding":{"x":{"datum":201.7,"type":"quantitative"},"y":{"datum":3.997,"type":"quantitative"}}},
{"data":{"values":[{}]},"mark":{"type":"rect","fill":"black"},"encoding":{"x":{"datum":-33.45,"type":"quantitative"},"x2":{"datum":145.12},"y":{"datum":3.492,"type":"quantitative"},"y2":{"datum":5.600}}},
{"data":{"values":[{}]},"mark":{"type":"rect","fill":"#f2f2f2","stroke":"black","strokeWidth":1.2},"encoding":{"x":{"datum":-31.98,"type":"quantitative"},"x2":{"datum":146.60},"y":{"datum":3.800,"type":"quantitative"},"y2":{"datum":5.993}}},
{"data":{"values":[{}]},"mark":{"type":"text","text":"COT1d Occupancy per cell for SL 5","align":"left","baseline":"middle","font":"Liberation Sans","fontSize":22.5,"color":"black"},"encoding":{"x":{"datum":-28.53,"type":"quantitative"},"y":{"datum":4.772,"type":"quantitative"}}},
{"data":{"values":[{}]},"mark":{"type":"rect","fill":"black","cornerRadiusTopLeft":17,"cornerRadiusBottomLeft":17},"encoding":{"x":{"datum":310.91,"type":"quantitative"},"x2":{"datum":343.87},"y":{"datum":0.985,"type":"quantitative"},"y2":{"datum":34.66}}},
{"data":{"values":[{}]},"mark":{"type":"rect","fill":"#ffff00","cornerRadiusTopLeft":15,"cornerRadiusBottomLeft":15},"encoding":{"x":{"datum":312.39,"type":"quantitative"},"x2":{"datum":343.87},"y":{"datum":1.036,"type":"quantitative"},"y2":{"datum":32.95}}},
{"data":{"values":[{}]},"mark":{"type":"point","shape":"M1,0.018L-1,0.841L1,-0.811","size":7744,"filled":true,"fill":"#ffff00","stroke":"black","strokeWidth":2.5,"opacity":1},"encoding":{"x":{"datum":321.24,"type":"quantitative"},"y":{"datum":0.5366,"type":"quantitative"}}},
{"data":{"values":[{}]},"mark":{"type":"text","text":"A","align":"right","baseline":"alphabetic","font":"DejaVu Sans","fontSize":48,"fontWeight":"bold","color":"black"},"encoding":{"x":{"datum":343.87,"type":"quantitative"},"y":{"datum":10.457,"type":"quantitative"}}},
{"data":{"values":[{}]},"mark":{"type":"text","text":"s","align":"right","baseline":"alphabetic","font":"DejaVu Sans","fontSize":48,"fontWeight":"bold","color":"black"},"encoding":{"x":{"datum":343.87,"type":"quantitative"},"y":{"datum":3.997,"type":"quantitative"}}},
{"data":{"values":[{}]},"mark":{"type":"text","text":"c","align":"right","baseline":"alphabetic","font":"DejaVu Sans","fontSize":48,"fontWeight":"bold","color":"black"},"encoding":{"x":{"datum":343.87,"type":"quantitative"},"y":{"datum":1.527,"type":"quantitative"}}}
]
}
],"spacing":3,"bounds":"flush"}
]
}
